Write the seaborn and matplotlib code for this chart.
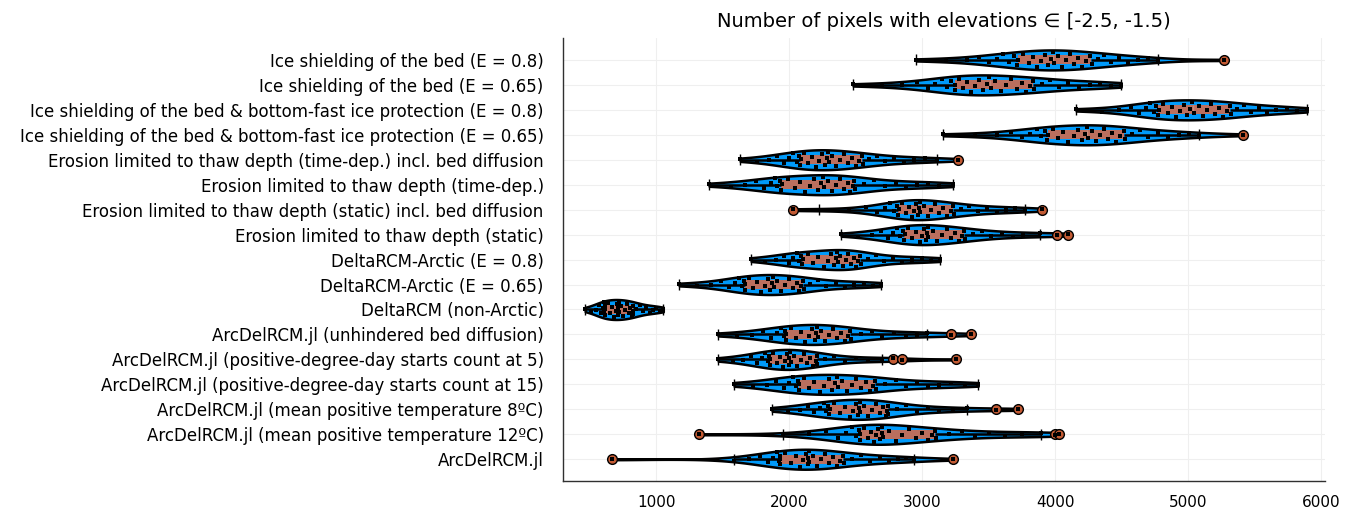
import numpy as np
import pandas as pd
import matplotlib
matplotlib.use('Agg')
import matplotlib.pyplot as plt
from matplotlib.cbook import boxplot_stats
import seaborn as sns

# scenario names, top to bottom
scenarios = [
    'Ice shielding of the bed (E = 0.8)',
    'Ice shielding of the bed (E = 0.65)',
    'Ice shielding of the bed & bottom-fast ice protection (E = 0.8)',
    'Ice shielding of the bed & bottom-fast ice protection (E = 0.65)',
    'Erosion limited to thaw depth (time-dep.) incl. bed diffusion',
    'Erosion limited to thaw depth (time-dep.)',
    'Erosion limited to thaw depth (static) incl. bed diffusion',
    'Erosion limited to thaw depth (static)',
    'DeltaRCM-Arctic (E = 0.8)',
    'DeltaRCM-Arctic (E = 0.65)',
    'DeltaRCM (non-Arctic)',
    'ArcDelRCM.jl (unhindered bed diffusion)',
    'ArcDelRCM.jl (positive-degree-day starts count at 5)',
    'ArcDelRCM.jl (positive-degree-day starts count at 15)',
    'ArcDelRCM.jl (mean positive temperature 8ºC)',
    'ArcDelRCM.jl (mean positive temperature 12ºC)',
    'ArcDelRCM.jl',
]

# number of pixels per run
ice_e08 = [2955, 3180, 3340, 3430, 3500, 3560, 3610, 3650, 3690, 3710,
           3720, 3760, 3800, 3830, 3860, 3890, 3920, 3945, 3965, 3980,
           3990, 4020, 4050, 4080, 4110, 4140, 4170, 4200, 4235, 4265,
           4280, 4320, 4370, 4420, 4480, 4550, 4620, 4700, 4774, 5270]
ice_e065 = [2481, 2700, 2850, 2960, 3040, 3100, 3150, 3190, 3220, 3245,
            3250, 3280, 3310, 3340, 3370, 3400, 3430, 3460, 3485, 3505,
            3517, 3550, 3590, 3630, 3670, 3710, 3750, 3780, 3810, 3830,
            3840, 3900, 3960, 4030, 4100, 4180, 4260, 4340, 4420, 4496]
ice_bf_e08 = [4158, 4350, 4480, 4570, 4630, 4680, 4710, 4740, 4760, 4772,
              4778, 4810, 4850, 4880, 4910, 4940, 4970, 4995, 5015, 5030,
              5046, 5080, 5110, 5140, 5170, 5200, 5230, 5260, 5290, 5312,
              5320, 5370, 5420, 5470, 5530, 5590, 5660, 5740, 5820, 5895]
ice_bf_e065 = [3158, 3400, 3560, 3670, 3750, 3810, 3860, 3895, 3920, 3937,
               3945, 3980, 4020, 4060, 4100, 4140, 4170, 4200, 4222, 4236,
               4246, 4280, 4310, 4340, 4370, 4400, 4430, 4460, 4490, 4515,
               4525, 4580, 4640, 4700, 4770, 4850, 4930, 5010, 5083, 5413]
thaw_td_diff = [1632, 1760, 1850, 1910, 1960, 2000, 2030, 2055, 2070, 2080,
                2086, 2110, 2140, 2170, 2200, 2225, 2250, 2270, 2283, 2290,
                2296, 2320, 2350, 2380, 2410, 2440, 2470, 2500, 2525, 2545,
                2553, 2600, 2660, 2720, 2790, 2860, 2940, 3020, 3113, 3271]
thaw_td = [1398, 1560, 1670, 1750, 1810, 1860, 1890, 1910, 1928, 1938,
           1942, 1990, 2040, 2080, 2120, 2160, 2190, 2220, 2240, 2252,
           2260, 2290, 2320, 2350, 2380, 2410, 2440, 2460, 2478, 2487,
           2492, 2560, 2640, 2720, 2800, 2880, 2960, 3040, 3130, 3233]
thaw_st_diff = [2030, 2226, 2450, 2580, 2660, 2720, 2760, 2790, 2808, 2818,
                2822, 2850, 2875, 2900, 2920, 2940, 2955, 2968, 2978, 2983,
                2987, 3010, 3040, 3070, 3100, 3130, 3160, 3190, 3215, 3230,
                3236, 3290, 3350, 3420, 3490, 3560, 3630, 3700, 3774, 3902]
thaw_st = [2391, 2520, 2620, 2690, 2740, 2780, 2810, 2835, 2852, 2862,
           2868, 2895, 2925, 2955, 2980, 3000, 3015, 3028, 3038, 3043,
           3047, 3080, 3115, 3150, 3185, 3220, 3250, 3275, 3298, 3313,
           3319, 3380, 3450, 3520, 3600, 3680, 3760, 3887, 4015, 4098]
drcm_arc_e08 = [1714, 1820, 1900, 1960, 2000, 2030, 2055, 2075, 2088, 2096,
                2100, 2140, 2180, 2220, 2260, 2290, 2315, 2335, 2350, 2358,
                2364, 2385, 2405, 2425, 2445, 2465, 2485, 2505, 2520, 2530,
                2538, 2590, 2650, 2710, 2780, 2850, 2920, 3000, 3070, 3135]
drcm_arc_e065 = [1173, 1310, 1410, 1490, 1550, 1590, 1620, 1645, 1660, 1667,
                 1671, 1700, 1730, 1760, 1790, 1815, 1840, 1858, 1870, 1877,
                 1883, 1910, 1940, 1970, 2000, 2030, 2055, 2075, 2092, 2102,
                 2108, 2160, 2220, 2280, 2350, 2420, 2490, 2560, 2630, 2692]
drcm = [466, 510, 545, 570, 585, 597, 605, 610, 614, 616,
        618, 635, 655, 670, 685, 695, 705, 712, 716, 719,
        721, 735, 750, 765, 780, 795, 805, 815, 822, 826,
        828, 850, 875, 900, 925, 950, 975, 1000, 1025, 1053]
adr_unhind = [1466, 1610, 1720, 1800, 1860, 1910, 1940, 1960, 1972, 1976,
              1979, 2010, 2050, 2090, 2120, 2150, 2175, 2195, 2205, 2209,
              2213, 2240, 2270, 2300, 2330, 2360, 2390, 2420, 2445, 2458,
              2464, 2540, 2620, 2700, 2790, 2880, 2960, 3038, 3218, 3368]
adr_pdd5 = [1466, 1580, 1650, 1710, 1760, 1795, 1820, 1838, 1850, 1854,
            1857, 1880, 1905, 1930, 1950, 1970, 1985, 1995, 2002, 2006,
            2010, 2035, 2060, 2085, 2110, 2135, 2160, 2180, 2198, 2208,
            2212, 2270, 2340, 2420, 2500, 2590, 2699, 2782, 2850, 3256]
adr_pdd15 = [1586, 1730, 1830, 1900, 1960, 2000, 2030, 2052, 2066, 2073,
             2077, 2110, 2150, 2190, 2230, 2265, 2300, 2325, 2345, 2357,
             2365, 2400, 2435, 2470, 2505, 2540, 2575, 2605, 2630, 2644,
             2650, 2720, 2800, 2880, 2960, 3040, 3130, 3220, 3320, 3421]
adr_t8 = [1872, 1990, 2080, 2140, 2190, 2230, 2260, 2280, 2293, 2299,
          2303, 2340, 2380, 2420, 2455, 2480, 2500, 2515, 2526, 2532,
          2536, 2560, 2590, 2620, 2650, 2680, 2705, 2725, 2737, 2742,
          2746, 2810, 2880, 2960, 3040, 3130, 3230, 3338, 3556, 3722]
adr_t12 = [1323, 1955, 2150, 2280, 2370, 2430, 2475, 2505, 2525, 2532,
           2536, 2560, 2590, 2615, 2635, 2655, 2670, 2684, 2694, 2698,
           2702, 2750, 2800, 2850, 2900, 2950, 3000, 3040, 3075, 3096,
           3104, 3200, 3300, 3400, 3500, 3620, 3750, 3895, 4000, 4030]
adr_base = [669, 1586, 1700, 1780, 1840, 1880, 1905, 1920, 1928, 1931,
            1934, 1970, 2010, 2050, 2080, 2105, 2125, 2138, 2145, 2149,
            2152, 2180, 2210, 2240, 2270, 2300, 2330, 2360, 2385, 2402,
            2410, 2470, 2540, 2610, 2680, 2750, 2820, 2880, 2940, 3233]

series = [ice_e08, ice_e065, ice_bf_e08, ice_bf_e065, thaw_td_diff, thaw_td,
          thaw_st_diff, thaw_st, drcm_arc_e08, drcm_arc_e065, drcm,
          adr_unhind, adr_pdd5, adr_pdd15, adr_t8, adr_t12, adr_base]

df = pd.DataFrame({
    'scenario': np.repeat(scenarios, [len(s) for s in series]),
    'pixels': np.concatenate(series),
})

sns.set_style('white')
plt.rcParams['font.family'] = ['DejaVu Sans']
plt.rcParams['text.color'] = 'black'
plt.rcParams['xtick.color'] = 'black'
plt.rcParams['ytick.color'] = 'black'

fig = plt.figure(figsize=(13.57, 5.13), dpi=100)
ax = fig.add_axes([0.415, 0.062, 0.5615, 0.864])

blue = '#009AFA'
boxc = '#bb6f5e'
vwidth = 0.8

sns.violinplot(data=df, x='pixels', y='scenario', order=scenarios, orient='h',
               cut=0, inner=None, color=blue, saturation=1, linecolor='black',
               linewidth=1.8, density_norm='width', width=vwidth, ax=ax, zorder=2)

sns.boxplot(data=df, x='pixels', y='scenario', order=scenarios, orient='h',
            width=0.36, whis=1.5, color=boxc, saturation=1, linewidth=1.5,
            boxprops=dict(facecolor=boxc, edgecolor=boxc, linewidth=0, zorder=3),
            whiskerprops=dict(color='black', linewidth=1.8, zorder=3),
            capprops=dict(linewidth=0),
            medianprops=dict(color='#c98a7c', linewidth=1, zorder=3),
            flierprops=dict(marker='o', markersize=7, markerfacecolor='#c25a33',
                            markeredgecolor='black', markeredgewidth=1, zorder=4),
            ax=ax)

for i, vals in enumerate(series):
    v = np.asarray(vals, dtype=float)
    # whisker end caps
    st = boxplot_stats(v, whis=1.5)[0]
    ax.vlines([st['whislo'], st['whishi']], i - 0.22, i + 0.22, color='black',
              linewidth=1, zorder=4)
    # dots spread inside the violin width
    bw = v.std(ddof=1) * len(v) ** (-0.2)
    dens = np.exp(-0.5 * ((v[:, None] - v[None, :]) / bw) ** 2).sum(axis=1)
    grid = np.linspace(v.min(), v.max(), 400)
    gdens = np.exp(-0.5 * ((grid[:, None] - v[None, :]) / bw) ** 2).sum(axis=1)
    half = vwidth / 2 * dens / gdens.max()
    u = ((np.arange(len(v)) * 0.6180339887 + 0.3) % 1) * 2 - 1
    ax.scatter(v, i + 0.85 * half * u, s=9, c='black', marker='s', linewidths=0, zorder=5)

ax.set_xlim(300, 6030)
ax.set_ylim(len(scenarios) - 1 + 0.88, -0.88)
ax.set_xticks([1000, 2000, 3000, 4000, 5000, 6000])
ax.set_xlabel('')
ax.set_ylabel('')
ax.grid(True, color='#efefef', linewidth=0.8)
ax.set_axisbelow(True)
for side in ['top', 'right']:
    ax.spines[side].set_visible(False)
for side in ['left', 'bottom']:
    ax.spines[side].set_color('#303030')
    ax.spines[side].set_linewidth(1)
ax.tick_params(axis='both', direction='in', length=4, color='#303030')
ax.tick_params(axis='x', labelsize=11, pad=10)
ax.tick_params(axis='y', labelsize=12, pad=14)
ax.set_title('Number of pixels with elevations ∈ [-2.5, -1.5)', fontsize=14, pad=8)

fig.savefig('out.png', dpi=100)
